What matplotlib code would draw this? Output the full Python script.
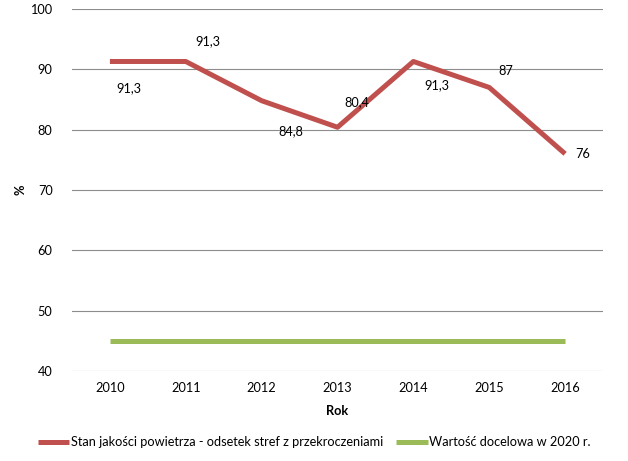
import matplotlib
matplotlib.use("Agg")
import matplotlib.pyplot as plt

years = ["2010", "2011", "2012", "2013", "2014", "2015", "2016"]
stan = [91.3, 91.3, 84.8, 80.4, 91.3, 87, 76]
cel = [45, 45, 45, 45, 45, 45, 45]
labels = ["91,3", "91,3", "84,8", "80,4", "91,3", "87", "76"]
# label offsets in points (dx, dy)
offs = [(14, -19), (16, 15), (21, -22), (14, 18), (17, -17), (12, 12), (13, 0)]

plt.rcParams['font.family'] = ['Lato', 'DejaVu Sans']

fig = plt.figure(figsize=(6.28, 4.61), dpi=100)
ax = fig.add_axes([72/628, 1-371/461, 531/628, 362/461])

x = range(len(years))
ax.plot(x, stan, color='#C0504D', lw=3.6, solid_capstyle='butt',
        label='Stan jakości powietrza - odsetek stref z przekroczeniami', zorder=3)
ax.plot(x, cel, color='#9BBB59', lw=3.6, solid_capstyle='butt',
        label='Wartość docelowa w 2020 r.', zorder=3)

for i, (v, t) in enumerate(zip(stan, labels)):
    ax.annotate(t, (i, v), xytext=offs[i], textcoords='offset points',
                ha='center', va='center', fontsize=9.2)

ax.set_xlim(-0.5, 6.5)
ax.set_ylim(40, 100)
ax.set_yticks(range(40, 101, 10))
ax.set_xticks(list(x))
ax.set_xticklabels(years)
ax.grid(axis='y', color='#8c8c8c', lw=0.8)
ax.set_axisbelow(True)
for s in ax.spines.values():
    s.set_visible(False)
ax.tick_params(length=0, labelsize=9.2, pad=8)
ax.tick_params(axis='y', pad=14)
ax.set_xlabel('Rok', fontsize=9.2, fontweight='bold', labelpad=8)
ax.set_ylabel('%', fontsize=9.2, fontweight='bold')
ax.yaxis.set_label_coords(-0.085, 0.5)

fig.legend(loc='center', bbox_to_anchor=(0.5, 1-442/461), ncol=2, frameon=False,
           fontsize=9.2, handlelength=2.5, columnspacing=1.0, handletextpad=0.1)

fig.savefig('out.png', dpi=100)
